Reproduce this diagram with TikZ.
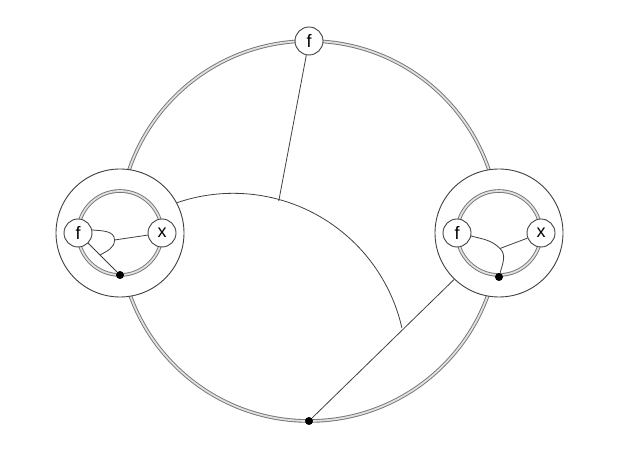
\documentclass[tikz,border=0pt]{standalone}
\usepackage{fontspec}
\setsansfont{Liberation Sans}
\usetikzlibrary{calc}
\begin{document}
\begin{tikzpicture}[x=0.5pt,y=0.5pt,
    wire/.style={draw=black!75,line width=0.4pt},
    dwire/.style={draw=black!55,line width=0.45pt,double=black!12,double distance=0.9pt},
    ring/.style={circle,draw=black!75,line width=0.45pt,fill=white,inner sep=0pt,minimum size=64pt},
    term/.style={circle,draw=black!75,line width=0.45pt,fill=white,inner sep=0pt,minimum size=14pt,font=\sffamily\fontsize{9}{10}\selectfont},
    blob/.style={circle,fill=black,inner sep=0pt,minimum size=4pt}]
                \useasboundingbox (0,0) rectangle (620,465);
                \coordinate (CENTER) at (309,234);
                \coordinate (ARCC) at (234,97);
                \draw[dwire] (CENTER) circle[radius=190];
                \node[ring](LRING) at (120,232) {};
                \node[ring](RRING) at (499,232) {};
                \node[blob](BOT) at (309,44) {};
                \coordinate (ARCJ) at ($(ARCC)+(75:173)$);
                \draw[wire] (LRING.28) arc[start angle=109,end angle=12.8,radius=173];
                \draw[wire] (BOT) -- (RRING.226);
                \node[term](FTOP) at (309,424) {f};
                \draw[wire] (FTOP) -- (ARCJ);
                % left box
                \draw[dwire] (LRING.center) circle[radius=42];
                \node[term](LF) at (78,232) {f};
                \node[term](LX) at (162,232) {x};
                \node[blob](LDOT) at (120,190) {};
                \coordinate (LJ) at (114.5,225);
                \coordinate (LP) at ($(LF)!0.524!(LDOT)$);
                \draw[wire] (LF) -- (LDOT);
                \draw[wire] (LJ) -- (LX);
                \draw[wire] (LF.12) to[out=-5,in=90] (LJ) to[out=-90,in=30] (LP);
                % right box
                \draw[dwire] (RRING.center) circle[radius=42];
                \node[term](RF) at (457,232) {f};
                \node[term](RX) at (541,232) {x};
                \node[blob](RDOT) at (499,188) {};
                \coordinate (RJ) at (500,216.5);
                \draw[wire] (RJ) -- (RX);
                \draw[wire] (RF.-12) to[out=-15,in=135] (RJ) to[out=-45,in=75] (RDOT);
            \end{tikzpicture}
\end{document}
